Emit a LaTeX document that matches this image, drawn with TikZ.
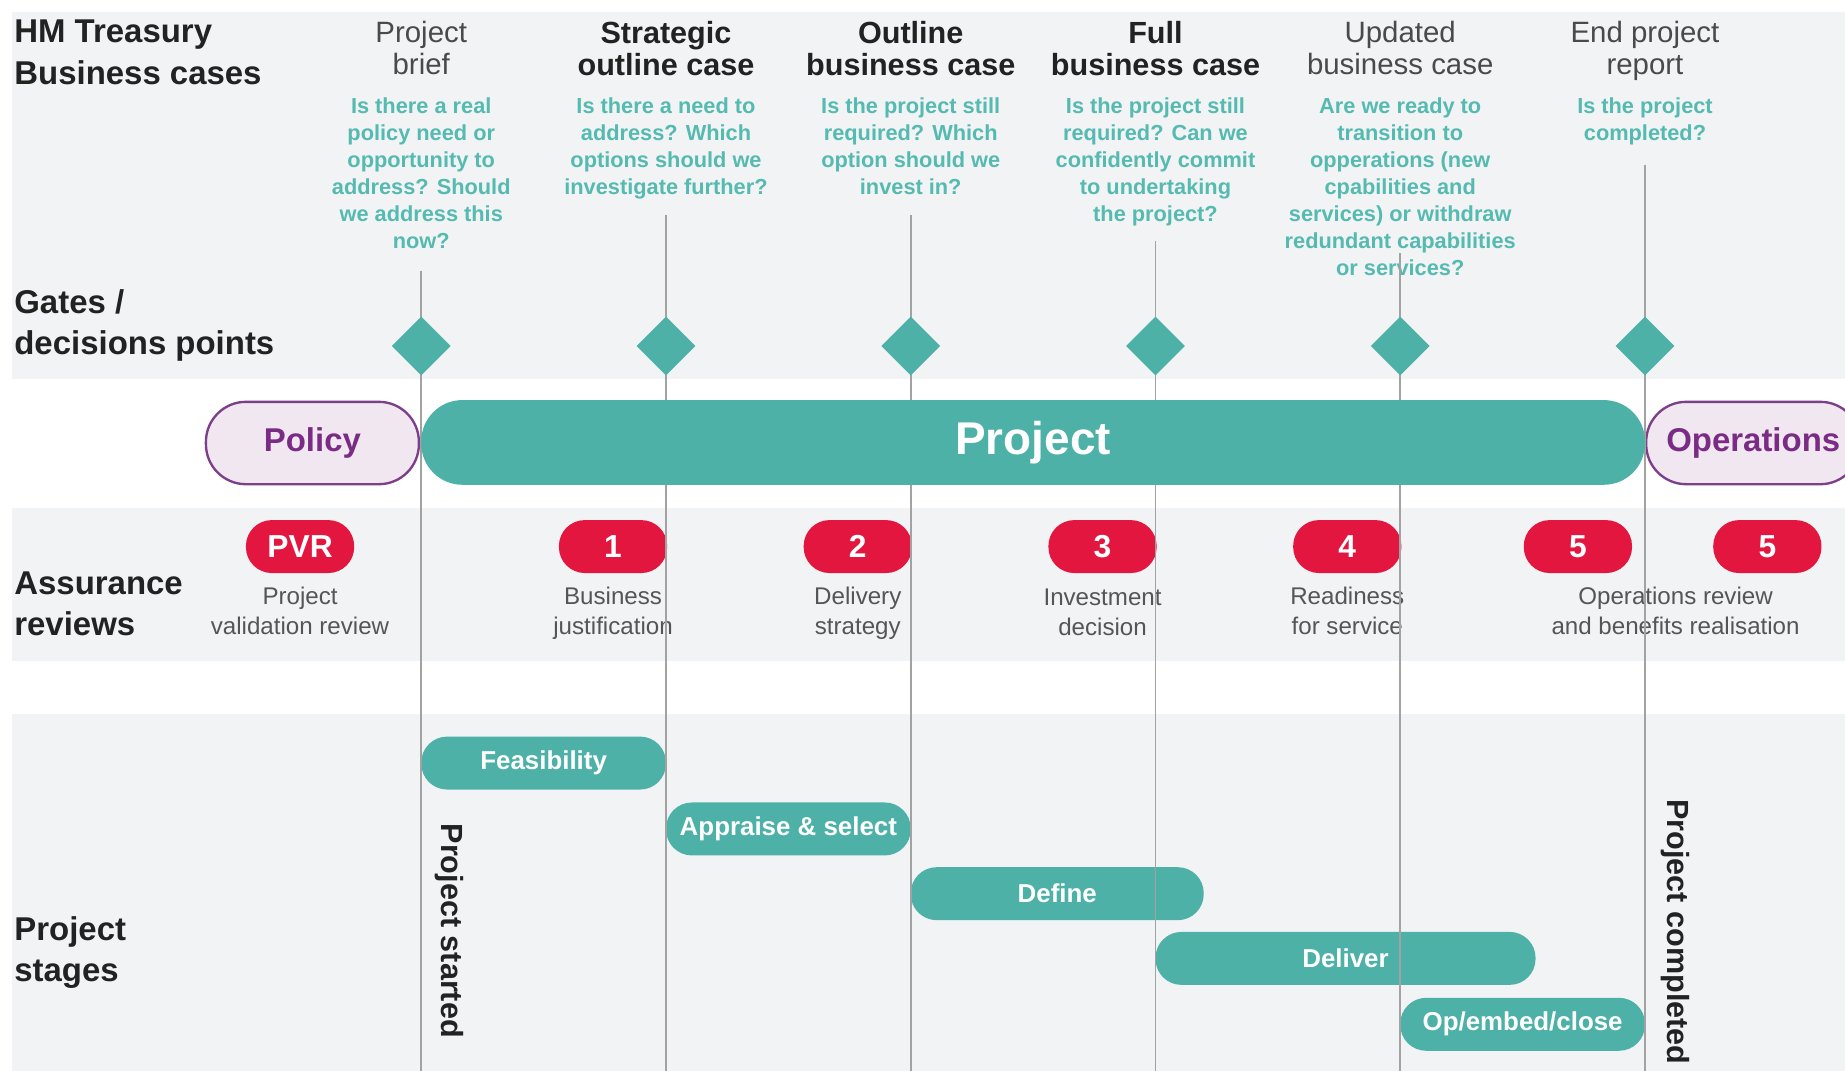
\documentclass[tikz,border=0pt]{standalone}
\usepackage{fontspec}
\setmainfont{Liberation Sans}
\usetikzlibrary{shapes.geometric}
\definecolor{tealc}{HTML}{4DB1A8}
\definecolor{qteal}{HTML}{55BAB0}
\definecolor{bandc}{HTML}{F2F3F5}
\definecolor{redc}{HTML}{E2163F}
\definecolor{polfill}{HTML}{F1E7F1}
\definecolor{polline}{HTML}{7E3F8A}
\definecolor{poltext}{HTML}{7A2C84}
\definecolor{darkc}{HTML}{222222}
\definecolor{lightc}{HTML}{4A4A4A}
\definecolor{labc}{HTML}{555555}
\definecolor{guidec}{HTML}{A2A2A2}
\tikzset{
  rowlabel/.style={anchor=west, align=left, text=darkc, inner sep=0pt, font=\fontsize{28}{35}\selectfont\bfseries},
  headlight/.style={anchor=north, align=center, text=lightc, inner sep=0pt, font=\fontsize{25}{27}\selectfont},
  headbold/.style={anchor=north, align=center, text=darkc, inner sep=0pt, font=\fontsize{26}{27}\selectfont\bfseries},
  question/.style={anchor=north, align=center, text=qteal, inner sep=0pt, font=\fontsize{18.5}{23}\selectfont\bfseries},
  gate/.style={diamond, fill=tealc, minimum width=50pt, minimum height=50pt, inner sep=0pt},
  redpill/.style={rectangle, fill=redc, rounded corners=22pt, minimum width=92pt, minimum height=45pt, inner sep=0pt, text=white, font=\fontsize{27}{30}\selectfont\bfseries},
  revlabel/.style={anchor=north, align=center, text=labc, inner sep=0pt, font=\fontsize{20.5}{26}\selectfont},
  stagepill/.style={rectangle, fill=tealc, rounded corners=22pt, minimum height=45pt, inner sep=0pt, text=white, font=\fontsize{22}{24}\selectfont\bfseries},
  sidepill/.style={rectangle, fill=polfill, draw=polline, line width=2pt, rounded corners=34pt, minimum height=70pt, inner sep=0pt, text=poltext, font=\fontsize{28}{30}\selectfont\bfseries},
  vertlabel/.style={rotate=-90, text=darkc, inner sep=0pt, font=\fontsize{26}{28}\selectfont\bfseries},
  guide/.style={draw=guidec, line width=1.3pt},
}
\begin{document}
\begin{tikzpicture}[x=1pt,y=-1pt]
\useasboundingbox (0,0) rectangle (1568,910);
\fill[white] (0,0) rectangle (1568,910);
% bands
\fill[bandc] (10,10) rectangle (1568,322);
\fill[bandc] (10,432) rectangle (1568,562);
\fill[bandc] (10,607) rectangle (1568,910);

% row labels
\node[rowlabel] (lbc) at (12,44.5) {HM Treasury\\Business cases};
\node[rowlabel] (lgates) at (12,276.5) {Gates /\\decisions points};
\node[rowlabel] (lassur) at (12,513.5) {Assurance\\reviews};
\node[rowlabel] (lstages) at (12,809.5) {Project\\stages};

% column headings
\node[headlight] (h1) at (358,18) {Project\\brief};
\node[headbold]  (h2) at (566,18) {Strategic\\outline case};
\node[headbold]  (h3) at (774,18) {Outline\\business case};
\node[headbold]  (h4) at (982,18) {Full\\business case};
\node[headlight] (h5) at (1190,18) {Updated\\business case};
\node[headlight] (h6) at (1398,18) {End project\\report};

% questions
\node[question] (q1) at (358,82.5) {Is there a real\\policy need or\\opportunity to\\address? Should\\we address this\\now?};
\node[question] (q2) at (566,82.5) {Is there a need to\\address? Which\\options should we\\investigate further?};
\node[question] (q3) at (774,82.5) {Is the project still\\required? Which\\option should we\\invest in?};
\node[question] (q4) at (982,82.5) {Is the project still\\required? Can we\\confidently commit\\to undertaking\\the project?};
\node[question] (q5) at (1190,82.5) {Are we ready to\\transition to\\opperations (new\\cpabilities and\\services) or withdraw\\redundant capabilities\\or services?};
\node[question] (q6) at (1398,82.5) {Is the project\\completed?};

% policy / operations
\node[sidepill, minimum width=181pt] (policy) at (265.5,376.5) {Policy};
\node[sidepill, minimum width=182pt] (ops) at (1490,376.5) {Operations};

% assurance reviews
\node[redpill] (pvr) at (255,464.5) {PVR};
\node[redpill] (r1) at (521,464.5) {1};
\node[redpill] (r2) at (729,464.5) {2};
\node[redpill] (r3) at (937,464.5) {3};
\node[redpill] (r4) at (1145,464.5) {4};
\node[redpill] (r5a) at (1341,464.5) {5};
\node[redpill] (r5b) at (1502,464.5) {5};
\node[revlabel] (lpvr) at (255,498.5) {Project\\validation review};
\node[revlabel] (lr1) at (521,498.5) {Business\\justification};
\node[revlabel] (lr2) at (729,498.5) {Delivery\\strategy};
\node[revlabel] (lr3) at (937,500) {Investment\\decision};
\node[revlabel] (lr4) at (1145,498.5) {Readiness\\for service};
\node[revlabel] (lr5) at (1424,498.5) {Operations review\\and benefits realisation};

% stages
\node[stagepill, minimum width=208pt] (feas) at (462,648.5) {Feasibility};
\node[stagepill, minimum width=208pt] (appr) at (670,704.5) {Appraise \& select};
\node[stagepill, minimum width=249pt] (defn) at (898.5,759.5) {Define};
\node[stagepill, minimum width=323pt] (deliv) at (1143.5,814.5) {Deliver};
\node[stagepill, minimum width=208pt] (opemb) at (1294,870.5) {Op/embed/close};
\node[vertlabel] (pstart) at (382,791) {Project started};
\node[vertlabel] (pcomp) at (1424,792) {Project completed};

% guide lines
\coordinate (t1) at (358,230);  \coordinate (b1) at (358,910);
\coordinate (t2) at (566,183);  \coordinate (b2) at (566,910);
\coordinate (t3) at (774,183);  \coordinate (b3) at (774,910);
\coordinate (t4) at (982,205);  \coordinate (b4) at (982,910);
\coordinate (t5) at (1190,215); \coordinate (b5) at (1190,910);
\coordinate (t6) at (1398,140); \coordinate (b6) at (1398,910);
\foreach \i in {1,...,6} { \draw[guide] (t\i) -- (b\i); }

% project bar
\node[rectangle, fill=tealc, rounded corners=35pt, minimum width=1040pt, minimum height=72pt, inner sep=0pt, text=white, font=\fontsize{39}{42}\selectfont\bfseries] (proj) at (878,376) {Project};

% gates
\node[gate] (g1) at (358,294) {};
\node[gate] (g2) at (566,294) {};
\node[gate] (g3) at (774,294) {};
\node[gate] (g4) at (982,294) {};
\node[gate] (g5) at (1190,294) {};
\node[gate] (g6) at (1398,294) {};
\end{tikzpicture}
\end{document}
